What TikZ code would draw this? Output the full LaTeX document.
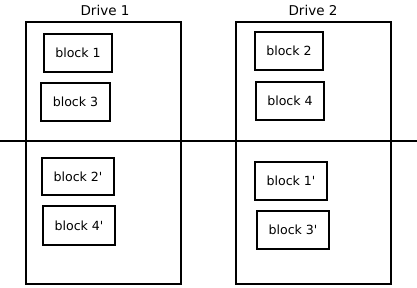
\documentclass[tikz,border=0pt]{standalone}
\usepackage{fontspec}
\setmainfont{DejaVu Sans}
\begin{document}
\begin{tikzpicture}[x=1pt,y=-1pt,
  drivebox/.style={draw, line width=1.5pt},
  blockbox/.style={draw, line width=1.7pt, font=\fontsize{12.6}{14}\selectfont},
  lbl/.style={font=\fontsize{13.5}{15}\selectfont, inner sep=0pt}]
\useasboundingbox (0,0) rectangle (417,287);
\draw[drivebox] (26,22) rectangle (181,284);
\draw[drivebox] (236,22) rectangle (391,284);
\coordinate (L) at (0,141);
\coordinate (R) at (417,141);
\draw[line width=1.5pt] (L) -- (R);
\node[lbl] (d1) at (105,10) {Drive 1};
\node[lbl] (d2) at (313,10) {Drive 2};
\node[blockbox, minimum width=68pt, minimum height=38pt] (b1) at (78,53) {block 1};
\node[blockbox, minimum width=69pt, minimum height=38pt] (b3) at (75.5,102) {block 3};
\node[blockbox, minimum width=68pt, minimum height=38pt] (b2) at (289,51) {block 2};
\node[blockbox, minimum width=68pt, minimum height=38pt] (b4) at (290,101) {block 4};
\node[blockbox, minimum width=72pt, minimum height=37pt] (b2p) at (78,176.5) {block 2\textquotesingle};
\node[blockbox, minimum width=72pt, minimum height=39pt] (b4p) at (79,225.5) {block 4\textquotesingle};
\node[blockbox, minimum width=72pt, minimum height=38pt] (b1p) at (291,181) {block 1\textquotesingle};
\node[blockbox, minimum width=72pt, minimum height=38pt] (b3p) at (293,230) {block 3\textquotesingle};
\end{tikzpicture}
\end{document}
